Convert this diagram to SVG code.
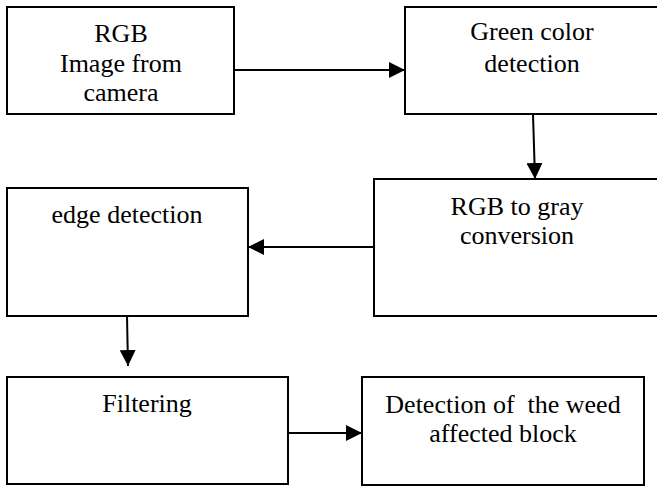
<svg xmlns="http://www.w3.org/2000/svg" width="657" height="486" viewBox="0 0 657 486">
<style>
.box{fill:#fff;stroke:#000;stroke-width:2}
.t{font-size:26px;fill:#000;text-anchor:middle}
.c{fill:none;stroke:#000;stroke-width:2;marker-end:url(#ah)}
</style>
<defs>
<marker id="ah" markerUnits="userSpaceOnUse" markerWidth="17" markerHeight="16" refX="16" refY="8" orient="auto">
<path d="M0,0 L16,8 L0,16 Z" fill="#000"/>
</marker>
</defs>
<rect width="657" height="486" fill="#fff"/>
<g font-family="'Liberation Serif', 'Times New Roman', Tinos, 'DejaVu Serif', serif">
<g id="n1"><rect class="box" x="7" y="7" width="227" height="107"/>
<text class="t" x="121" y="42">RGB</text><text class="t" x="121" y="72">Image from</text><text class="t" x="121" y="101">camera</text></g>
<g id="n2"><rect class="box" x="405" y="7" width="257" height="107"/>
<text class="t" x="532" y="40">Green color</text><text class="t" x="532" y="72">detection</text></g>
<g id="n3"><rect class="box" x="374" y="179" width="288" height="137"/>
<text class="t" x="517" y="215">RGB to gray</text><text class="t" x="517" y="244">conversion</text></g>
<g id="n4"><rect class="box" x="7" y="188" width="241" height="128"/>
<text class="t" x="127" y="223">edge detection</text></g>
<g id="n5"><rect class="box" x="7" y="377" width="281" height="107"/>
<text class="t" x="147" y="412">Filtering</text></g>
<g id="n6"><rect class="box" x="362" y="377" width="282" height="108"/>
<text class="t" x="503" y="413" xml:space="preserve">Detection of  the weed</text><text class="t" x="503" y="442">affected block</text></g>
</g>
<g id="connectors">
<line class="c" x1="234" y1="70" x2="405" y2="70"/>
<line class="c" x1="533" y1="114" x2="535" y2="179"/>
<line class="c" x1="374" y1="247" x2="248" y2="247"/>
<line class="c" x1="127" y1="316" x2="128" y2="366"/>
<line class="c" x1="288" y1="433" x2="362" y2="433"/>
</g>
</svg>
